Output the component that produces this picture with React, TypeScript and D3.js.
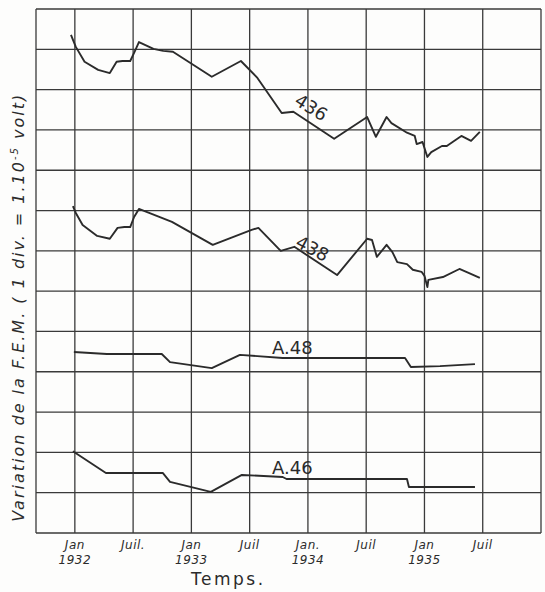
import React from 'react';
import * as d3 from 'd3';

// months counted from Jan 1932, values in divisions (1 div = 1e-5 V)
const s436Months = [-0.4, 0.1, 1.0, 2.4, 3.6, 4.3, 4.9, 5.7, 6.1, 6.6, 8.1, 9.1, 10.1, 14.1, 17.1, 18.8, 21.3, 22.5, 26.7, 30.1, 31.0, 32.1, 32.6, 34.2, 35.0, 35.2, 35.8, 36.3, 36.7, 37.8, 38.3, 39.8, 40.8, 41.7];
const s436Values = [12.36, 12.06, 11.69, 11.49, 11.41, 11.69, 11.71, 11.71, 11.91, 12.18, 12.01, 11.96, 11.94, 11.32, 11.71, 11.29, 10.42, 10.45, 9.78, 10.32, 9.83, 10.32, 10.17, 9.93, 9.85, 9.65, 9.70, 9.33, 9.45, 9.60, 9.60, 9.85, 9.73, 9.95];

const s438Months = [-0.2, 0.1, 0.8, 2.3, 3.6, 4.4, 5.1, 5.7, 6.1, 6.6, 10.0, 14.2, 18.2, 18.9, 21.2, 22.6, 27.0, 30.1, 30.6, 31.1, 32.1, 32.7, 33.2, 34.2, 34.8, 35.7, 36.0, 36.3, 36.4, 37.9, 39.6, 40.6, 41.7];
const s438Values = [8.11, 7.94, 7.64, 7.37, 7.30, 7.57, 7.59, 7.59, 7.84, 8.04, 7.72, 7.15, 7.52, 7.57, 7.00, 7.10, 6.40, 7.30, 7.27, 6.85, 7.15, 6.97, 6.72, 6.67, 6.53, 6.48, 6.38, 6.10, 6.28, 6.35, 6.55, 6.45, 6.33];

const a48Months = [-0.1, 3.3, 8.95, 9.8, 14.1, 17.0, 21.4, 34.0, 34.6, 37.6, 41.2];
const a48Values = [4.49, 4.44, 4.44, 4.24, 4.09, 4.42, 4.34, 4.34, 4.12, 4.14, 4.19];

const a46Months = [-0.2, 3.2, 9.05, 9.8, 14.0, 17.2, 21.4, 21.8, 34.2, 34.4, 41.2];
const a46Values = [2.03, 1.49, 1.49, 1.27, 1.02, 1.44, 1.39, 1.34, 1.34, 1.14, 1.14];

const tickMonths = [0, 6, 12, 18, 24, 30, 36, 42];
const tickLabels = [['Jan', '1932'], ['Juil.'], ['Jan', '1933'], ['Juil'], ['Jan.', '1934'], ['Juil'], ['Jan', '1935'], ['Juil']];

export default function App() {
  const width = 545;
  const height = 592;
  const margin = { top: 9, right: 4, bottom: 59, left: 36 };

  const x = d3.scaleLinear().domain([-4, 48]).range([margin.left, width - margin.right]);
  const y = d3.scaleLinear().domain([0, 13]).range([height - margin.bottom, margin.top]);

  const line = d3.line<[number, number]>()
    .x(d => x(d[0]))
    .y(d => y(d[1]));

  const series = [
    { months: s436Months, values: s436Values },
    { months: s438Months, values: s438Values },
    { months: a48Months, values: a48Values },
    { months: a46Months, values: a46Values },
  ];

  const ink = '#2b2b2b';
  const font = '"DejaVu Sans", sans-serif';

  return (
    <svg width={width} height={height} style={{ position: 'fixed', left: 0, top: 0, background: '#fdfdfc' }}>
      {/* grid */}
      <g stroke="#3a3a3a" strokeWidth={1.3} fill="none">
        {d3.range(0, 14).map(v => (
          <line key={'h' + v} x1={x(-4)} x2={x(48)} y1={y(v)} y2={y(v)} />
        ))}
        {tickMonths.map(m => (
          <line key={'v' + m} x1={x(m)} x2={x(m)} y1={y(0)} y2={y(13)} />
        ))}
        <line x1={x(-4)} x2={x(-4)} y1={y(0)} y2={y(13)} />
        <line x1={x(48)} x2={x(48)} y1={y(0)} y2={y(13)} />
      </g>

      {/* curves */}
      {series.map((s, i) => (
        <path key={i}
          d={line(s.months.map((m, j) => [m, s.values[j]] as [number, number])) || ''}
          fill="none" stroke={ink} strokeWidth={1.9} strokeLinejoin="round" />
      ))}

      {/* curve labels */}
      <text transform={`translate(${x(22.5)},${y(10.65)}) rotate(32)`} fontFamily={font} fontSize={18} fill={ink}>436</text>
      <text transform={`translate(${x(22.6)},${y(7.12)}) rotate(28)`} fontFamily={font} fontSize={18} fill={ink}>438</text>
      <text x={x(20.3)} y={y(4.45)} fontFamily={font} fontSize={18} fill={ink}>A.48</text>
      <text x={x(20.3)} y={y(1.47)} fontFamily={font} fontSize={18} fill={ink}>A.46</text>

      {/* x tick labels */}
      {tickMonths.map((m, i) => (
        <text key={'t' + m} x={x(m)} textAnchor="middle" fontFamily={font} fontStyle="italic" fontSize={12} fill={ink}>
          {tickLabels[i].map((t, k) => (
            <tspan key={k} x={x(m)} y={y(0) + 16 + k * 15} letterSpacing={0.5}>{t}</tspan>
          ))}
        </text>
      ))}

      {/* axis titles */}
      <text x={x(15.8)} y={585} textAnchor="middle" fontFamily={font} fontSize={17} letterSpacing={2.5} fill={ink}>Temps.</text>
      <text transform={`translate(24,${y(5.6)}) rotate(-90)`} textAnchor="middle" fontFamily={font} fontStyle="italic" fontSize={16} letterSpacing={2} fill={ink}>
        Variation de la F.E.M. ( 1 div. = 1.10<tspan dy={-6} fontSize={10}>-5</tspan><tspan dy={6}> volt)</tspan>
      </text>
    </svg>
  );
}
